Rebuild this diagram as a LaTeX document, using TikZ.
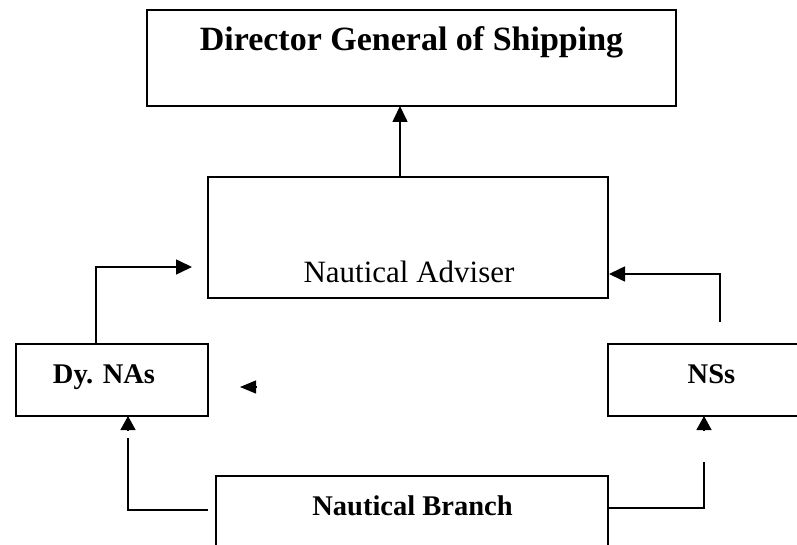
\documentclass[tikz,border=0pt]{standalone}
\usepackage{fontspec}
\setmainfont{Liberation Serif}
\usetikzlibrary{arrows.meta}
\begin{document}
\begin{tikzpicture}[x=1pt,y=-1pt,
  box/.style={draw,line width=1.2pt,inner sep=0pt,outer sep=0pt,anchor=north west},
  lbl/.style={anchor=base,inner sep=0pt},
  conn/.style={line width=1.6pt},
  thin/.style={line width=1.2pt},
  tipA/.style={-{Triangle[length=16pt,width=15pt]}},
  tipB/.style={-{Triangle[length=14pt,width=15pt]}}]
\useasboundingbox (0,0) rectangle (797,545);
\clip (0,0) rectangle (797,545);
% boxes
\node[box,minimum width=529pt,minimum height=96pt] (dg) at (147,10) {};
\node[box,minimum width=400pt,minimum height=121pt] (na) at (208,177) {};
\node[box,minimum width=192pt,minimum height=72pt] (dy) at (16,344) {};
\node[box,minimum width=220pt,minimum height=72pt] (ns) at (608,344) {};
\node[box,minimum width=392pt,minimum height=90pt] (nb) at (216,476) {};
% texts
\node[lbl,font=\fontsize{34}{38}\selectfont\bfseries] (dgt) at (411.5,51) {Director General of Shipping};
\node[lbl,font=\fontsize{31}{35}\selectfont] (nat) at (409,282) {Nautical Adviser};
\node[lbl,font=\fontsize{28.5}{32}\selectfont\bfseries] (dyt) at (104,383) {Dy. NAs};
\node[lbl,font=\fontsize{28.5}{32}\selectfont\bfseries] (nst) at (711.5,383) {NSs};
\node[lbl,font=\fontsize{28.5}{32}\selectfont\bfseries] (nbt) at (412.5,515) {Nautical Branch};
% coordinates
\coordinate (c1) at (192,267);
\coordinate (c2) at (720,322);
\coordinate (c3) at (609,274);
\coordinate (c4) at (208,510);
\coordinate (c5) at (128,438);
\coordinate (c6) at (128,431);
\coordinate (c7) at (704,462);
\coordinate (c8) at (608,508);
\coordinate (c9) at (704,431);
\coordinate (c10) at (256,387);
\coordinate (c11) at (240,387);
% connectors
\draw[conn,tipA] ([xshift=-8pt]na.north) -- ([xshift=-8pt]na.north |- dg.south);
\draw[conn,tipA] ([xshift=-16pt]dy.north) |- (c1);
\draw[conn,tipA] (c2) |- (c3);
\draw[thin] (c4) -| (c5);
\draw[thin,tipB] (c6) -- (c6 |- dy.south);
\draw[thin] (c8) -| (c7);
\draw[thin,tipB] (c9) -- (c9 |- ns.south);
\draw[thin,-{Triangle[length=16pt,width=13pt]}] (c10) -- (c11);
\end{tikzpicture}
\end{document}
